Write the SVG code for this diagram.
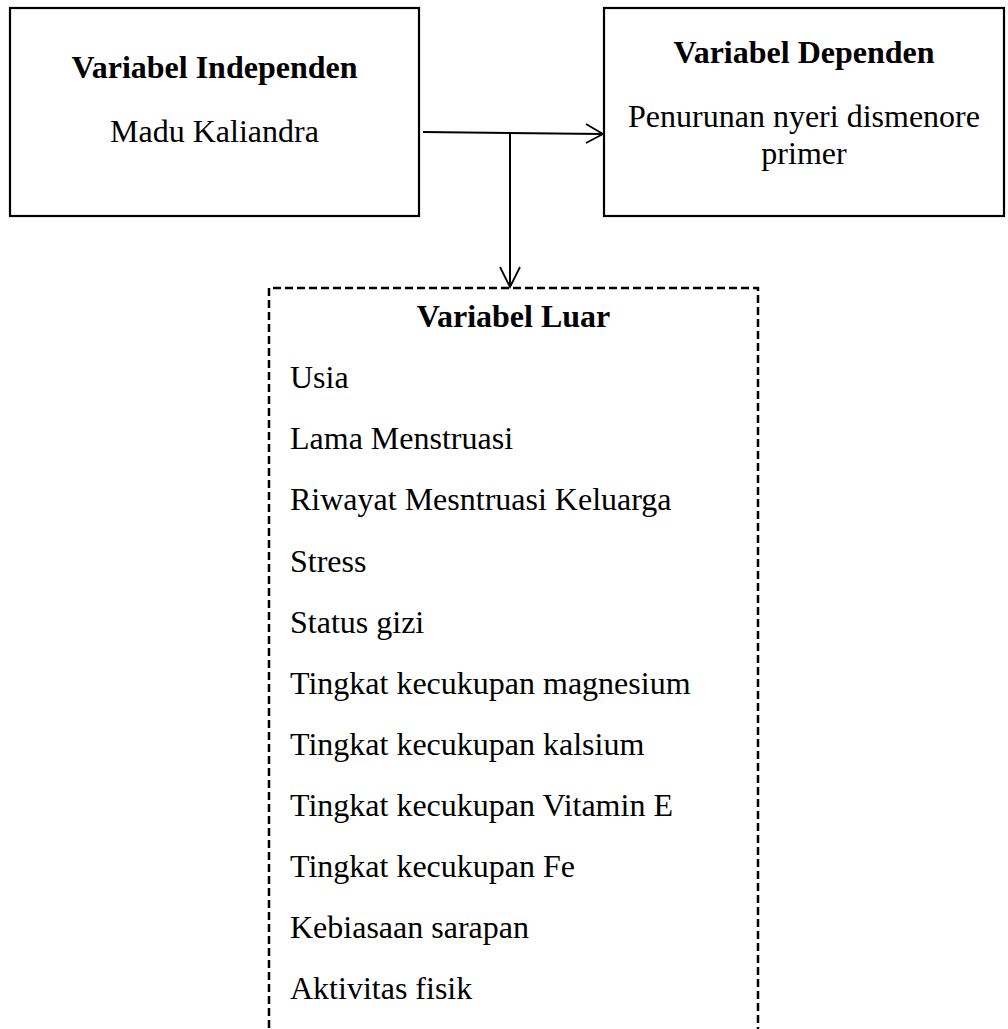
<svg xmlns="http://www.w3.org/2000/svg" width="1008" height="1029" viewBox="0 0 1008 1029">
<style>
text{font-family:"Liberation Serif","Times New Roman",serif;font-size:32px;fill:#000}
.b{font-weight:bold}
.c{text-anchor:middle}
.box{fill:#fff;stroke:#000;stroke-width:2.2}
.dash{fill:none;stroke:#000;stroke-width:2.5;stroke-dasharray:8 4}
.conn{fill:none;stroke:#000;stroke-width:2}
.head{fill:none;stroke:#000;stroke-width:1.8}
</style>
<rect width="1008" height="1029" fill="#fff"/>
<g id="connectors">
<line class="conn" x1="423" y1="132" x2="603" y2="134"/>
<polyline class="head" points="586,124 603,134 586,143"/>
<line class="conn" x1="510" y1="133" x2="510" y2="287"/>
<polyline class="head" points="500,267 510,287 520,267"/>
</g>
<g id="independen">
<rect class="box" x="10" y="8" width="409" height="208"/>
<text class="b c" x="214.5" y="78">Variabel Independen</text>
<text class="c" x="214.5" y="142">Madu Kaliandra</text>
</g>
<g id="dependen">
<rect class="box" x="604" y="8" width="400" height="208"/>
<text class="b c" x="804" y="63">Variabel Dependen</text>
<text class="c" x="804" y="127">Penurunan nyeri dismenore</text>
<text class="c" x="804" y="164">primer</text>
</g>
<g id="luar">
<path class="dash" d="M269,1040 V288 H758 V1040"/>
<text class="b c" x="513.5" y="327">Variabel Luar</text>
<text x="290" y="388">Usia</text>
<text x="290" y="449">Lama Menstruasi</text>
<text x="290" y="510">Riwayat Mesntruasi Keluarga</text>
<text x="290" y="572">Stress</text>
<text x="290" y="633">Status gizi</text>
<text x="290" y="694">Tingkat kecukupan magnesium</text>
<text x="290" y="755">Tingkat kecukupan kalsium</text>
<text x="290" y="816">Tingkat kecukupan Vitamin E</text>
<text x="290" y="877">Tingkat kecukupan Fe</text>
<text x="290" y="938">Kebiasaan sarapan</text>
<text x="290" y="999">Aktivitas fisik</text>
</g>
</svg>
